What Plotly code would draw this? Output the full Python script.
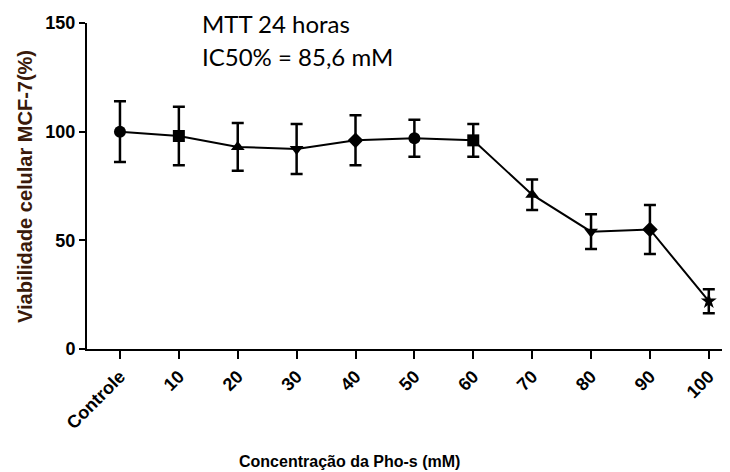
import plotly.graph_objects as go

categories = ["Controle", "10", "20", "30", "40", "50", "60", "70", "80", "90", "100"]
viability = [100, 98, 93, 92, 96, 97, 96, 71, 54, 55, 22]
error = [14, 13.5, 11, 11.5, 11.5, 8.5, 7.5, 7, 8, 11.3, 5.5]
symbols = ["circle", "square", "triangle-up", "triangle-down", "diamond",
           "circle", "square", "triangle-up", "triangle-down", "diamond", "star"]

xs = list(range(len(categories)))

fig = go.Figure()
fig.add_trace(go.Scatter(
    x=xs, y=viability,
    mode="lines+markers",
    line=dict(color="black", width=2),
    marker=dict(symbol=symbols, size=12, color="black"),
    error_y=dict(type="data", array=error, visible=True,
                 color="black", thickness=2.5, width=6),
    showlegend=False,
))

FAM = "Arial"
tickfont = dict(family=FAM, size=18, color="black", weight="bold")

fig.update_layout(
    width=722, height=464,
    margin=dict(l=79, r=0, t=15, b=123),
    paper_bgcolor="white", plot_bgcolor="white",
    xaxis=dict(
        range=[-0.56, 10.36],
        tickmode="array", tickvals=xs, ticktext=categories,
        tickangle=-45,
        ticks="outside", ticklen=8, tickwidth=2, tickcolor="black",
        showline=True, linecolor="black", linewidth=2,
        showgrid=False, zeroline=False,
        tickfont=tickfont,
    ),
    yaxis=dict(
        range=[0, 150],
        tickvals=[0, 50, 100, 150],
        ticks="outside", ticklen=6, tickwidth=2, tickcolor="black",
        showline=True, linecolor="black", linewidth=2,
        showgrid=False, zeroline=False,
        tickfont=tickfont,
    ),
    annotations=[
        dict(text="Concentração da Pho-s (mM)", xref="paper", yref="paper",
             x=0.408, y=-0.344, xanchor="center", yanchor="middle", showarrow=False,
             font=dict(family=FAM, size=16, color="black", weight="bold")),
        dict(text="Viabilidade celular MCF-7(%)", xref="paper", yref="paper",
             x=-0.0964, y=0.497, xanchor="center", yanchor="middle", showarrow=False,
             textangle=-90,
             font=dict(family=FAM, size=20, color="#3a1a0a", weight="bold")),
        dict(text="MTT 24 horas", xref="paper", yref="paper",
             x=0.176, y=1.0, xanchor="left", yanchor="middle", showarrow=False,
             font=dict(family="Lato", size=24, color="black")),
        dict(text="IC50% = 85,6 mM", xref="paper", yref="paper",
             x=0.176, y=0.896, xanchor="left", yanchor="middle", showarrow=False,
             font=dict(family="Lato", size=24, color="black")),
    ],
)

fig.write_html("out.html")
